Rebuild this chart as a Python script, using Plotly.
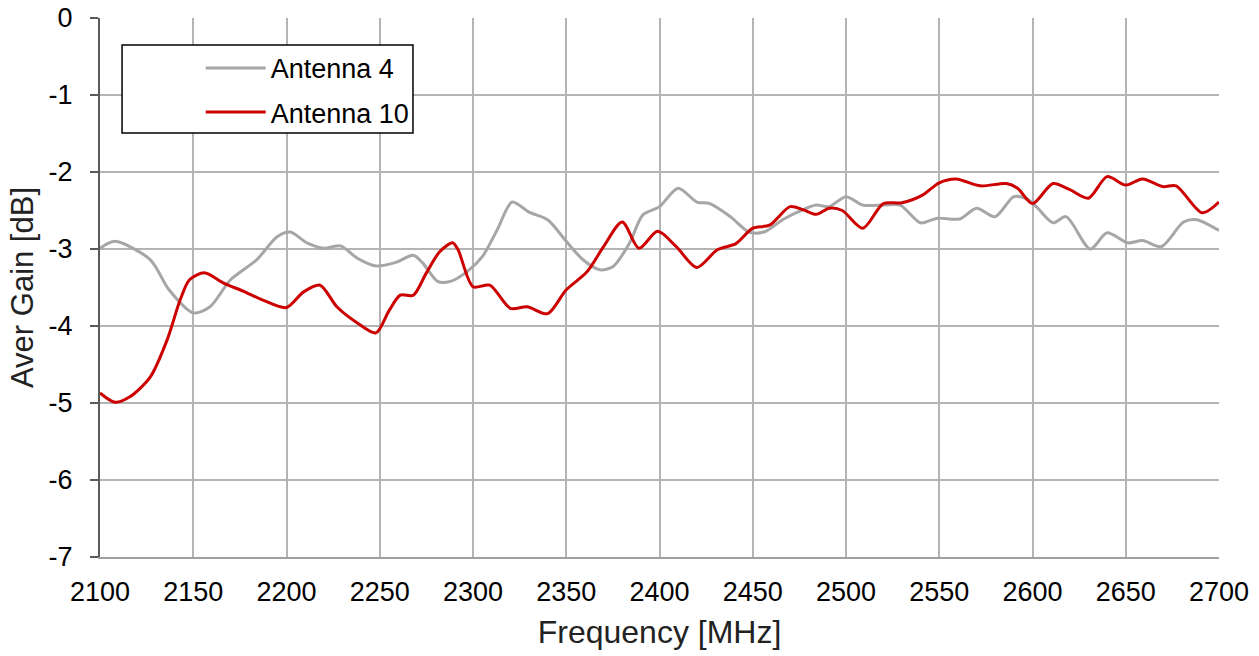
import plotly.graph_objects as go

# Frequency sweep (MHz) and average gain (dB) for each antenna
freq_ant4 = [2100, 2108, 2127, 2137, 2150, 2159, 2170, 2184, 2195, 2202, 2211, 2220,
             2229, 2238, 2248, 2259, 2268, 2273, 2281, 2288, 2297, 2305, 2313, 2321,
             2330, 2340, 2350, 2359, 2368, 2375, 2384, 2391, 2400, 2410, 2420, 2427,
             2438, 2448, 2456, 2466, 2477, 2484, 2491, 2500, 2509, 2520, 2529, 2540,
             2549, 2561, 2570, 2580, 2590, 2597, 2602, 2611, 2618, 2631, 2640, 2651,
             2659, 2669, 2681, 2688, 2700]
gain_ant4 = [-2.99, -2.90, -3.14, -3.53, -3.83, -3.75, -3.40, -3.14, -2.84, -2.78, -2.92, -2.99,
             -2.96, -3.12, -3.22, -3.17, -3.08, -3.18, -3.42, -3.42, -3.29, -3.10, -2.75, -2.39,
             -2.52, -2.62, -2.90, -3.14, -3.27, -3.23, -2.92, -2.56, -2.45, -2.21, -2.39, -2.41,
             -2.58, -2.78, -2.78, -2.62, -2.49, -2.43, -2.45, -2.32, -2.43, -2.43, -2.43, -2.66,
             -2.60, -2.61, -2.47, -2.58, -2.32, -2.35, -2.45, -2.66, -2.58, -3.00, -2.79, -2.92,
             -2.89, -2.97, -2.65, -2.62, -2.76]

freq_ant10 = [2100, 2108, 2116, 2127, 2136, 2143, 2148, 2156, 2166, 2177, 2187, 2200,
              2209, 2218, 2227, 2238, 2248, 2255, 2261, 2268, 2275, 2282, 2289, 2292,
              2300, 2309, 2320, 2329, 2340, 2350, 2361, 2370, 2380, 2389, 2399, 2409,
              2420, 2431, 2441, 2450, 2459, 2470, 2477, 2484, 2491, 2498, 2509, 2520,
              2530, 2541, 2550, 2559, 2572, 2586, 2592, 2600, 2611, 2620, 2630, 2640,
              2650, 2659, 2670, 2677, 2691, 2700]
gain_ant10 = [-4.87, -4.99, -4.92, -4.66, -4.18, -3.66, -3.40, -3.31, -3.44, -3.55, -3.66, -3.76,
              -3.56, -3.47, -3.75, -3.96, -4.09, -3.80, -3.60, -3.60, -3.31, -3.04, -2.92, -3.01,
              -3.49, -3.47, -3.77, -3.75, -3.84, -3.53, -3.30, -2.97, -2.65, -2.99, -2.77, -2.97,
              -3.24, -3.01, -2.93, -2.73, -2.69, -2.45, -2.49, -2.55, -2.47, -2.50, -2.73, -2.41,
              -2.40, -2.30, -2.14, -2.09, -2.18, -2.15, -2.21, -2.41, -2.15, -2.23, -2.34, -2.06,
              -2.17, -2.09, -2.19, -2.18, -2.53, -2.39]

x_ticks = [2100, 2150, 2200, 2250, 2300, 2350, 2400, 2450, 2500, 2550, 2600, 2650, 2700]
y_ticks = [0, -1, -2, -3, -4, -5, -6, -7]

FONT = "Liberation Sans, Arial, sans-serif"

fig = go.Figure()
fig.add_trace(go.Scatter(
    x=freq_ant4, y=gain_ant4, name="Antenna 4", mode="lines",
    line=dict(color="#a6a6a6", width=3, shape="spline", smoothing=0.8),
    legendgroup="a4",
))
fig.add_trace(go.Scatter(
    x=freq_ant10, y=gain_ant10, name="Antenna 10", mode="lines",
    line=dict(color="#cc0000", width=3, shape="spline", smoothing=0.8),
    legendgroup="a10",
))

# legend frame
fig.add_shape(type="rect", xref="paper", yref="paper",
              x0=0.0197, x1=0.2797, y0=1 - (133 - 18) / 539, y1=1 - (45 - 18) / 539,
              line=dict(color="#000000", width=1.5), fillcolor="white", layer="above")

fig.update_layout(
    width=1259, height=656,
    margin=dict(l=100, r=40, t=18, b=99, autoexpand=False),
    paper_bgcolor="white", plot_bgcolor="white",
    font=dict(family=FONT, color="#000000"),
    showlegend=True,
    legend=dict(
        x=0.09, y=0.952, xanchor="left", yanchor="top",
        bgcolor="rgba(0,0,0,0)", borderwidth=0,
        font=dict(size=27, family=FONT, color="#000000"),
        itemwidth=60, traceorder="grouped", tracegroupgap=6,
    ),
    xaxis=dict(
        range=[2100, 2700], tickvals=x_ticks, ticktext=[str(v) for v in x_ticks],
        showgrid=True, gridcolor="#b4b4b4", gridwidth=2,
        showline=True, linecolor="#a0a0a0", linewidth=2, mirror=False,
        ticks="", ticklabelstandoff=10, zeroline=False, automargin=False,
        tickfont=dict(size=27, family=FONT, color="#000000"),
        title=dict(text="Frequency [MHz]", font=dict(size=32, family=FONT, color="#222222"),
                   standoff=14),
    ),
    yaxis=dict(
        range=[-7, 0], tickvals=y_ticks, ticktext=[str(v) for v in y_ticks],
        showgrid=True, gridcolor="#b4b4b4", gridwidth=2,
        showline=True, linecolor="#5a5a5a", linewidth=2,
        ticks="outside", ticklen=8, tickcolor="#5a5a5a", tickwidth=2,
        ticklabelstandoff=12, zeroline=False, automargin=False,
        tickfont=dict(size=27, family=FONT, color="#000000"),
        title=dict(text="Aver Gain [dB]", font=dict(size=31, family=FONT, color="#222222"),
                   standoff=6),
    ),
)

fig.write_html("out.html")
